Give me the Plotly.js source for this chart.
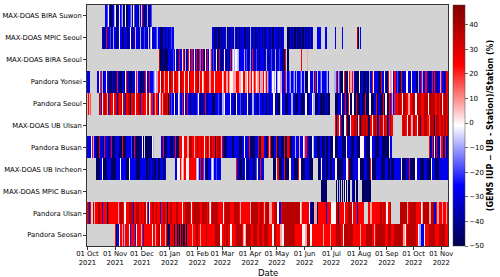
<!DOCTYPE html>
<html><head><meta charset="utf-8">
<script src="https://cdn.plot.ly/plotly-3.0.1.min.js"></script>
<style>html,body{margin:0;padding:0;background:#fff}#chart{width:500px;height:277px}</style>
</head><body><div id="chart"></div>
<script>
// Station rows, top to bottom
const stations = ["MAX-DOAS BIRA Suwon","MAX-DOAS MPIC Seoul","MAX-DOAS BIRA Seoul","Pandora Yonsei","Pandora Seoul","MAX-DOAS UB Ulsan","Pandora Busan","MAX-DOAS UB Incheon","MAX-DOAS MPIC Busan","Pandora Ulsan","Pandora Seosan"];
const startDate = Date.UTC(2021, 9, 1);
const nDays = 404;
const windowDays = 68;
// value (%) read for each colour code; '.' = no data
const levels = {N:-47,B:-38,b:-28,m:-19,l:-9,w:0,p:8,r:16,R:24,D:37,K:46};

// Daily values, one string per 68-day window, groups of 10 days
const rowBiraSuwon = [
".......... .......... bbmlwbNNBb lwBNNbwbml NBbwNNbbml BbwmNbbNlb ..DbNBbl",
"NBlbm....."];
const rowMpicSeoul = [
".......... .......bNB BRbNbbmNbl bbRNBbwbbN BbmbbNNbwb NBbbpbbNbl bNBbmbbN",
".bblwbBbbm l.bbNNNbbN bbbNbbmbb.",
"....bbNBNb bNNbNbBBbb lNbNBbbNbl bNbbNbBNbb NNbBbNlbbN bbNBbbNNbb NbBNbbNb",
"NBbNNbbNBb NbbNbbb... NNNbBNNbNN bNNBNbbNNb NBbNNbbNb. ...bBbbb.. ..bbb...",
"......b... ...b...... ...l...... DN..b....."];
const rowBiraSeoul = [
"",
".......... ...DNNNBNN NbNbbBbbmb bwbNbRbbwR bbpNbRwbRb RbwbRBbRbr bRbNwbRb",
"bwlRbmNbwN NbRBNNbwbl NbbNRblwwl ww.lbbbNbb lbmbNblbbR bbBmbbbNbb bbNblbbN",
"bbmbBblbNb bmbbNBNNR. NN........ ......R... ..p......."];
const rowPandoraYonsei = [
"bbb....... .bbwlmRlNb bwbRbNNNbN BNbbRbNNNb bNBwRbbNBN bNBbwRlbbN NbBNbRwb",
"bRwbbbmlwl ppRRwDDRpR RRRwDDRRwR DDRRpwDDRR pwRRRwDRRp RRwRRDDpRR RwpRRDRR",
"DppRRRwRRp RRRRRwpRRR ppRpwwwppp pRRRppwwwR RppwRpprRw pRrwppRRpl pRwpRlbm",
"bbmwwlwlbl wwlpbbmbRl bbmlbbmmlb lbbbmllbbl NNNwwwbbbl bRb..bbmlb bbbbmlb.",
"....lblRbl mNNNpwRNNN wRpwpRlbNN NNwNNbbNNN bNNNlbbRwb bbmbNNNRbb wRbNNRwl",
"pwlbRRbmbN NRbbNbbwwb bNNwbbbbNN lbbbRlbbRR wbbNNbRbRR bbNbblRbbR NbRR"];
const rowPandoraSeoul = [
"pRpr...... ...DRRbwRD DRpRbDDRRw RRDDbDRRDw DDRbRRDDNR RDDRwRRDDb RDRDRRwR",
"DwRpRRbRpR RbbwpRpRDD DDRNDbmbbw bNbBwlbbRb lwbbRbbNbl bbNbbmwbbN bNbbRbNb",
"bbbbNNNbbb bmbNbllwbb bbbbwbbbNN NwbbbmbbbN bbbwbNNNbl lbbbNbbmbb NbbbNbbb",
"NbbbwwNNbN NNlwbbbbNN NbbbllwbbN NNbbblNNNb wwNNNbbbwl lNNNNbbNNN NNbNNbNN",
"......NNNb bbwNNbbRNN RwNNNwwNNR NNNRbbNNNR NNNNwwNNNb bRNNbbNNNR NNwwNNRb",
"RpRbmRRRDD DRRwDDDRRp pRRRDDDwwD DDDDRRRDDD DDwDDDDDDR RRDDRDDwRR DDDR"];
const rowUbUlsan = [
"", "", "", "",
".....DRNRR wRbNNNwwRN NNwwRRRDDR NwRRNDDRDD RDRNNRRwRD DRRNbRDDRp DDRRNbRD",
"RR........ ..DRDDRRwD DRRppDDRRw DDDNRRRDDD DRRpDDDDNR RDDDRRDDRD DDRD"];
const rowPandoraBusan = [
"bbbbbwRlbb NNNRbbbbNR bbbNNbbRNN NbbbbbNNNR NNNNbbbbbm NNNRbNNNNN bbwN.NNN",
"NNNNNwl... .....bbRNN NNbbbNNNbb bRNNNRRRww wRRRppDDDR RRpRRDRRpR DRRwRRDR",
"RpDDRRRNRR DDDRpDbNNN NbbbbbNNbb bbbbNNNNbb wbbbbRNNNN NNbbbRNNNR RRbbNNbR",
"pRNNNbbRRN NbbNNNRRNN RRDNNbbbbl bbbpbbbbwl RRbbbNNNwl bbbNNNNbbN NNbNNNbb",
"NNNwwNNNNb bbbNNNNNwb bbbNNNNbbb NNNNwwwwbb NNNNNwwbbb NNNNNbbbNN NNNNNNwb",
"b......... .......... .......... .......... ...RNbRbwN NRbbNlRRNb bRNb"];
const rowUbIncheon = [
".......... NNNNbbbwNN NNbbbbbNNN NNbbbbbwbb bbbbNNNwbb bbbbbNNNNb bbbbbbNN",
"bNNbbNbNNb bbNNbbbNNb .......... .bbwwwRpwp pRRwwwRRRN RRRRlwlbwR bbRlbNNb",
"NbblwlbbmN bbbb...... .......... .RbbNNNbbN bwbNNbbwbb NNbmwbbNRb bb......",
"....NNNbwR RNNNbbRRNN NNwwbbbbNN NNRwwNNNNN bbbbNNNNN. ....bNNbwb NNbRNNbb",
"NNbbbbwwNN NNNNbbbbww RNNNNNbbbb bwwNNNNNbb bNNNNRwNNN NbbbbbbNNN NbbbbNNb",
"NNNNbbbbbb bwNNNNNbbb RbNNNNNwwb bbbNNNNbbb NNNNNwbbbb NNNNbbbbbw bbbb"];
const rowMpicBusan = [
"", "", "",
".......... .......... .......... .......... .......... ........NN NNNNN...",
".....N.N.N lN.NN.NwN. NN.N.bNN.N N.....NNNN NNNNNN...."];
const rowPandoraUlsan = [
"RDbRR..DpR RRDDRRRbRR RRNDDRRRRR RRbRRpRDDD RwwwRRRDDD DRbRRDDDRR DDRRDDwR",
"bwRRRDDRRD RRRRbRRDDR RRNRRDDRRR RRDDRRRRwR RRDDDDDRwR RDDDDDDDDR RDDDDDRD",
"RpwRDDDDDD DRRRRRwRDD DDDDRRRRDD DDDDRpRRRR RRRRRRpRDD DDDDDRRRDD DRpRDDDD",
"pppRRDDDDw wbbRDDDDDD DDDDDDDDDD DDDDwwpRRR RRRRwwbNNN pppNNRRRRR RRRRbRRR",
"RwwwwwwDDN RRRRpRwRRR DDDDDwRRRR bRRRRRRR.. ..RRRppRRR RRpRRRDDRD DRRwwRRD",
".......... DDRDDDDDpR DDDDDDDDRR RRRRwpDDDD DDDppDDDbb bRppRRRpRR RRpR"];
const rowPandoraSeosan = [
".......... .......... .......... .RbNbbwRRp RlbRRRRwbR RpRRbwRRRR pRRbRRRR",
"RRpRRwRRpR RRDDwRRRRp RRNNNRRDRN RRRNDNRNDN DNRNRRRRRR pRRRDDRRRp RRRRRDRR",
"RRRRRRRDDD DDDwwRRDRR DDRRwwRRRR RDDDDDDRRp wpDDDDDDRR DDDDRRDDDD RRDDDDRR",
"RRRwwDDDRR RRppwwDDDD DDDDDDDDDR RRRRRRRwww ppDDDDwwRR RRRRRRRRRR pRRRRRRR",
"pRRRRRRDDD DDRRwwDDDD DDDDDDRRRR RRRRpRRRRR DDDDDDDRRp RDDDDDDDDD DDRRRDDD",
"RRRRDDDDDD DDRRppwRDD DDDDDDDDRR wwllbbbwRR RRRDDDDDDD RRRRDDDDDD DRRR"];

const tickDates = ["2021-10-01","2021-11-01","2021-12-01","2022-01-01","2022-02-01","2022-03-01","2022-04-01","2022-05-01","2022-06-01","2022-07-01","2022-08-01","2022-09-01","2022-10-01","2022-11-01"];
const tickLabels = ["01 Oct<br>2021","01 Nov<br>2021","01 Dec<br>2021","01 Jan<br>2022","01 Feb<br>2022","01 Mar<br>2022","01 Apr<br>2022","01 May<br>2022","01 Jun<br>2022","01 Jul<br>2022","01 Aug<br>2022","01 Sep<br>2022","01 Oct<br>2022","01 Nov<br>2022"];
const cbTickVals = [-50,-40,-30,-20,-10,0,10,20,30,40];
const cbTickText = ["\u221250","\u221240","\u221230","\u221220","\u221210","0","10","20","30","40"];

function decode(windows){
  const out = new Array(nDays).fill(null);
  windows.forEach((s,k)=>{
    const t = s.replace(/ /g,'');
    for (let j=0;j<t.length && j<windowDays;j++){
      const d = windowDays*k + j;
      if (d >= nDays) break;
      const c = t[j];
      out[d] = (c in levels) ? levels[c] : null;
    }
  });
  return out;
}
const rows = [rowBiraSuwon,rowMpicSeoul,rowBiraSeoul,rowPandoraYonsei,rowPandoraSeoul,rowUbUlsan,rowPandoraBusan,rowUbIncheon,rowMpicBusan,rowPandoraUlsan,rowPandoraSeosan];
const z = rows.map(decode);
const dates = [];
for (let i=0;i<nDays;i++) dates.push(new Date(startDate + i*864e5).toISOString().slice(0,10));

const seismic = [[0,'rgb(0,0,77)'],[0.25,'rgb(0,0,255)'],[0.5,'rgb(255,255,255)'],[0.75,'rgb(255,0,0)'],[1,'rgb(128,0,0)']];
const font = 'DejaVu Sans, sans-serif';

Plotly.newPlot('chart', [{
  type:'heatmap', x:dates, y:stations, z:z,
  colorscale:seismic, zmin:-50, zmax:48, hoverongaps:false, xgap:0, ygap:0,
  colorbar:{
    x:1.0137, xanchor:'left', xref:'paper', y:0.5, yanchor:'middle', len:1, lenmode:'fraction',
    thickness:12, thicknessmode:'pixels', outlinewidth:0.5, outlinecolor:'#444',
    tickmode:'array', tickvals:cbTickVals, ticktext:cbTickText, ticks:'outside', ticklen:3, tickwidth:0.8,
    tickfont:{family:font,size:7,color:'#000'}, xpad:0, ypad:0,
    title:{text:'<b>(GEMS IUP \u2212 UB - Station)/Station (%)</b>', side:'right', font:{family:font,size:8,color:'#000'}}
  }
}], {
  width:500, height:277, margin:{l:87,r:48,t:5,b:31},
  paper_bgcolor:'#fff', plot_bgcolor:'#d3d3d3',
  font:{family:font,color:'#000'},
  xaxis:{type:'date', range:['2021-09-30 12:00','2022-11-08 12:00'], tickmode:'array', tickvals:tickDates, ticktext:tickLabels,
    tickangle:0, ticks:'outside', ticklen:3, tickwidth:0.8, tickcolor:'#000', tickfont:{family:font,size:6.8,color:'#000'},
    ticklabelstandoff:-2,
    showline:true, mirror:true, linecolor:'#000', linewidth:0.8, showgrid:false, zeroline:false, automargin:false},
  yaxis:{type:'category', autorange:'reversed', ticks:'outside', ticklen:3, tickwidth:0.8, tickcolor:'#000',
    tickfont:{family:font,size:6.8,color:'#000'}, showline:true, mirror:true, linecolor:'#000', linewidth:0.8,
    showgrid:false, zeroline:false, automargin:false},
  annotations:[{text:'Date', xref:'paper', yref:'paper', x:0.5, y:-0.112, xanchor:'center', yanchor:'middle',
    showarrow:false, font:{family:font,size:8.5,color:'#000'}}]
}, {displayModeBar:false, staticPlot:true});
</script></body></html>
